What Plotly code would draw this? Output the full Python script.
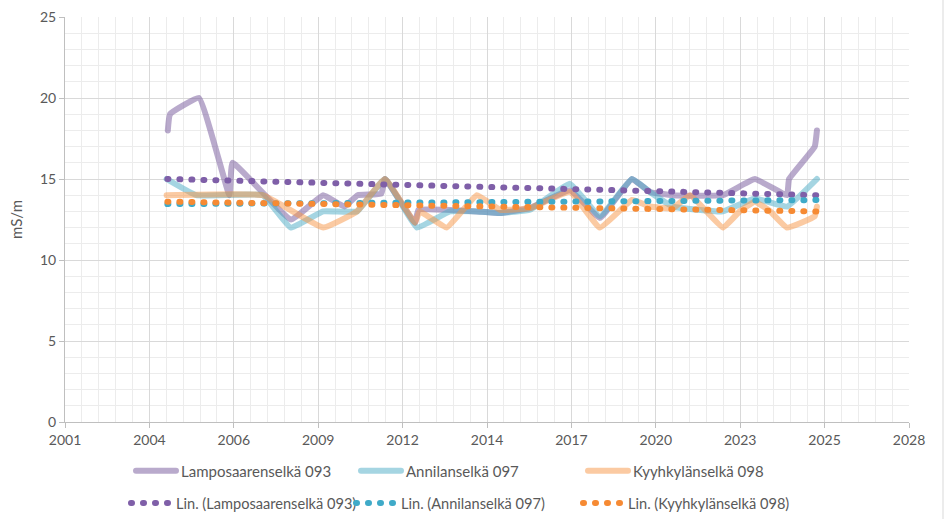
import plotly.graph_objects as go
import pandas as pd

# ---------------- data ----------------
lampo_dates = ["2004-08-15", "2004-09-10", "2005-08-20", "2006-08-15", "2006-09-20",
               "2008-08-15", "2009-08-30", "2010-05-08", "2010-10-12", "2011-07-20",
               "2011-09-01", "2012-08-22", "2012-10-01", "2013-08-08", "2014-08-25",
               "2015-05-26", "2016-05-15", "2017-09-01", "2018-08-22", "2019-09-05",
               "2020-04-05", "2021-01-01", "2022-08-18", "2023-09-01", "2024-09-15",
               "2024-10-10", "2025-08-10", "2025-09-05"]
lampo_vals = [18.0, 19.0, 20.0, 14.0, 16.0,
              12.5, 14.0, 13.3, 14.0, 14.1,
              15.0, 12.3, 13.1, 13.1, 13.0,
              12.9, 13.2, 14.3, 12.6, 15.0,
              14.2, 14.0, 14.0, 15.0, 14.0,
              15.0, 17.0, 18.0]

anni_dates = ["2004-08-01", "2005-07-20", "2007-09-15", "2008-08-10", "2009-08-30",
              "2010-10-05", "2011-09-01", "2012-09-15", "2013-10-10", "2014-08-25",
              "2015-05-26", "2016-05-15", "2017-09-01", "2018-08-22", "2019-09-05",
              "2020-04-05", "2021-01-01", "2022-08-18", "2023-09-01", "2024-09-15",
              "2025-09-05"]
anni_vals = [15.0, 14.0, 14.0, 12.0, 13.0,
             13.0, 15.0, 12.0, 13.0, 13.0,
             12.9, 13.1, 14.7, 12.7, 15.0,
             14.2, 13.3, 13.0, 13.8, 13.3,
             15.0]

kyyh_dates = ["2004-08-01", "2007-09-15", "2009-09-01", "2010-10-05", "2011-09-01",
              "2012-08-22", "2012-10-15", "2013-09-01", "2014-08-25", "2015-05-26",
              "2016-05-15", "2017-09-01", "2018-08-22", "2019-09-05", "2020-04-05",
              "2021-01-01", "2021-07-25", "2022-08-18", "2023-03-05", "2023-09-01",
              "2024-03-01", "2024-09-15", "2025-08-10", "2025-09-05"]
kyyh_vals = [14.0, 14.0, 12.0, 13.0, 15.0,
             12.3, 13.0, 12.0, 14.0, 13.1,
             13.2, 14.2, 12.0, 13.7, 13.3,
             13.2, 14.0, 12.0, 13.0, 13.6,
             13.0, 12.0, 12.7, 13.3]

# linear trend lines (end points)
trend_dates = ["2004-08-10", "2025-09-05"]
lampo_trend = [15.0, 14.0]
anni_trend = [13.45, 13.7]
kyyh_trend = [13.6, 13.0]

series_names = ["Lamposaarenselkä 093", "Annilanselkä 097", "Kyyhkylänselkä 098"]
trend_names = ["Lin. (Lamposaarenselkä 093)", "Lin. (Annilanselkä 097)", "Lin. (Kyyhkylänselkä 098)"]

# ---------------- styling ----------------
line_colors = ["rgba(128,100,162,0.55)", "rgba(75,172,198,0.5)", "rgba(247,150,70,0.5)"]
dot_colors = ["#7F5FA8", "#3FAAC8", "#F68A33"]
FONT = "Lato, Liberation Sans, sans-serif"
GRAY = "#595959"

# plot area in pixels: x 65..909, y 17..422
L, R, T, B = 65, 909, 17, 422
W, H = R - L, B - T
legend_x_px = [[131, 356, 583], [126, 351, 578]]
row_px = [471, 503]

fig = go.Figure()
for i, (d, v, n, c) in enumerate(zip([lampo_dates, anni_dates, kyyh_dates],
                                     [lampo_vals, anni_vals, kyyh_vals], series_names, line_colors)):
    fig.add_trace(go.Scatter(x=d, y=v, name=n, mode="lines", showlegend=True,
                             line=dict(color=c, width=6, shape="spline", smoothing=0.3),
                             legend="legend" if i == 0 else f"legend{i + 1}"))
for i, (v, n, c) in enumerate(zip([lampo_trend, anni_trend, kyyh_trend], trend_names, dot_colors)):
    fig.add_trace(go.Scatter(x=trend_dates, y=v, name=n, mode="lines", showlegend=True,
                             line=dict(color=c, width=6, dash="1px,11px"),
                             legend=f"legend{i + 4}"))

start = pd.Timestamp("2001-04-15")
end = start + pd.Timedelta(days=10000)
DAY = 86400000

legends = {}
for k in range(6):
    key = "legend" if k == 0 else f"legend{k + 1}"
    legends[key] = dict(orientation="h", x=(legend_x_px[k // 3][k % 3] - L) / W, xanchor="left",
                        y=(B - row_px[k // 3]) / H, yanchor="middle",
                        font=dict(size=15 if k < 3 else 14.6, color=GRAY),
                        bgcolor="rgba(0,0,0,0)", itemwidth=40)

fig.update_layout(
    width=946, height=519,
    showlegend=True,
    margin=dict(l=L, r=946 - R, t=T, b=519 - B, autoexpand=False),
    paper_bgcolor="white", plot_bgcolor="white",
    font=dict(family=FONT, size=14, color=GRAY),
    xaxis=dict(type="date", range=[start, end], tick0=start.strftime("%Y-%m-%d"),
               dtick=1000 * DAY, tickformat="%Y",
               showgrid=True, gridcolor="#d9d9d9", gridwidth=1,
               minor=dict(dtick=200 * DAY, tick0=start.strftime("%Y-%m-%d"),
                          showgrid=True, gridcolor="#ececec", gridwidth=1),
               showline=True, linecolor="#bfbfbf", linewidth=1,
               ticks="outside", ticklen=5, tickcolor="#bfbfbf",
               zeroline=False, tickfont=dict(size=14, color=GRAY)),
    yaxis=dict(range=[0, 25], dtick=5, tick0=0,
               showgrid=True, gridcolor="#d9d9d9", gridwidth=1,
               minor=dict(dtick=1, showgrid=True, gridcolor="#ececec", gridwidth=1),
               showline=True, linecolor="#bfbfbf", linewidth=1,
               ticks="outside", ticklen=5, tickcolor="#bfbfbf",
               zeroline=False, tickfont=dict(size=14, color=GRAY),
               title=dict(text="mS/m", font=dict(size=15, color=GRAY), standoff=13)),
    **legends,
)
fig.add_shape(type="line", xref="paper", yref="paper",
              x0=(943 - L) / W, x1=(943 - L) / W, y0=(B - 519) / H, y1=(B - 0) / H,
              line=dict(color="#d9d9d9", width=1))

post = """
document.body.style.margin='0';
function fixCaps(){
  document.querySelectorAll('path.js-line').forEach(function(p){
    p.style.strokeLinecap='round'; p.style.strokeLinejoin='round';
  });
}
fixCaps(); setTimeout(fixCaps, 50); setTimeout(fixCaps, 300); setTimeout(fixCaps, 1000);
"""
fig.write_html("out.html", post_script=post, config={"displayModeBar": False})
